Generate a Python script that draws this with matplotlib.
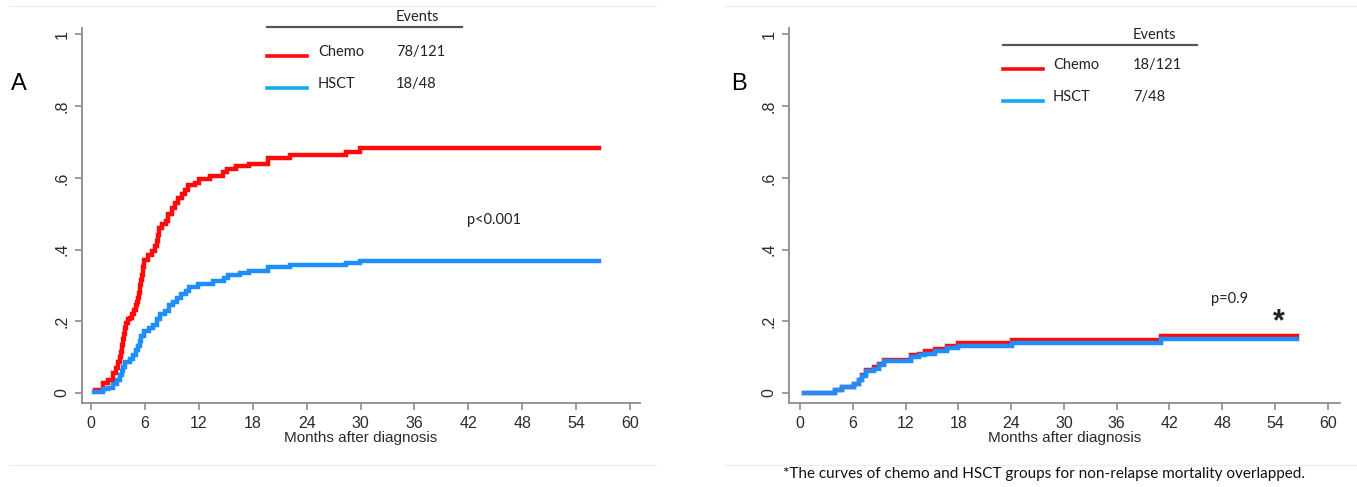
import matplotlib
matplotlib.use("Agg")
import matplotlib.pyplot as plt
from matplotlib.lines import Line2D
from matplotlib import font_manager

W, H = 1357, 487

# --- data (cumulative incidence, step functions) ---
# Panel A: relapse
a_chemo_t = [0.5, 1.3, 1.9, 2.4, 2.8, 3.0, 3.2, 3.35, 3.5, 3.6, 3.7, 3.8, 3.9, 4.1, 4.3, 4.6,
             4.8, 5.0, 5.1, 5.2, 5.3, 5.4, 5.5, 5.6, 5.7, 5.8, 5.9, 6.3, 6.8, 7.1, 7.3, 7.45,
             7.6, 7.9, 8.3, 8.6, 9.0, 9.4, 9.7, 10.1, 10.5, 10.8, 11.6, 12.0, 13.2, 14.7,
             15.1, 16.1, 17.6, 19.7, 22.1, 28.4, 29.9, 56.5]
a_chemo_y = [0.008, 0.027, 0.035, 0.055, 0.07, 0.085, 0.10, 0.115, 0.135, 0.15, 0.165, 0.18,
             0.195, 0.205, 0.21, 0.22, 0.232, 0.245, 0.255, 0.265, 0.28, 0.29, 0.30, 0.315,
             0.33, 0.35, 0.37, 0.385, 0.395, 0.41, 0.425, 0.44, 0.46, 0.47, 0.48, 0.50,
             0.515, 0.53, 0.545, 0.555, 0.565, 0.58, 0.585, 0.597, 0.605, 0.615, 0.625,
             0.632, 0.64, 0.655, 0.663, 0.672, 0.683, 0.683]
a_hsct_t = [0.3, 1.3, 1.9, 2.5, 2.9, 3.2, 3.4, 3.6, 3.8, 4.3, 4.7, 5.0, 5.2, 5.4, 5.6, 5.9,
            6.5, 6.9, 7.3, 7.7, 8.2, 8.7, 9.1, 9.6, 10.0, 10.6, 10.9, 11.9, 13.6, 14.8, 15.2,
            16.6, 17.6, 19.7, 22.1, 28.4, 29.9, 56.5]
a_hsct_y = [0.004, 0.01, 0.015, 0.025, 0.035, 0.05, 0.06, 0.072, 0.085, 0.095, 0.105, 0.12,
            0.13, 0.145, 0.16, 0.172, 0.18, 0.19, 0.205, 0.22, 0.23, 0.245, 0.255, 0.265,
            0.275, 0.285, 0.295, 0.305, 0.312, 0.322, 0.328, 0.334, 0.34, 0.35, 0.357,
            0.362, 0.369, 0.369]

# Panel B: non-relapse mortality
b_chemo_t = [0.5, 4.0, 4.8, 6.1, 6.7, 7.1, 7.5, 8.4, 9.0, 9.5, 12.6, 13.5, 14.2, 15.3, 16.7,
             18.0, 24.1, 41.0, 56.5]
b_chemo_y = [0.0, 0.008, 0.018, 0.026, 0.037, 0.05, 0.063, 0.072, 0.08, 0.093, 0.105, 0.11,
             0.116, 0.124, 0.131, 0.139, 0.148, 0.16, 0.16]
b_hsct_t = b_chemo_t
b_hsct_y = [0.0, 0.008, 0.018, 0.026, 0.037, 0.048, 0.06, 0.068, 0.077, 0.088, 0.10, 0.105,
            0.11, 0.118, 0.125, 0.132, 0.14, 0.15, 0.15]

x_ticks = [0, 6, 12, 18, 24, 30, 36, 42, 48, 54, 60]
y_ticks = [0, 0.2, 0.4, 0.6, 0.8, 1.0]
y_labels = ["0", ".2", ".4", ".6", ".8", "1"]

events_a = ["78/121", "18/48"]
events_b = ["18/121", "7/48"]
groups = ["Chemo", "HSCT"]

RED = "#ff0a0a"
BLUE = "#1e8ffa"
LEG_BLUE = "#14aaf0"

avail = {f.name for f in font_manager.fontManager.ttflist}
axis_font = "Liberation Sans" if "Liberation Sans" in avail else "DejaVu Sans"
leg_font = "Lato" if "Lato" in avail else "DejaVu Sans"


def px(x, y):
    return x / W, 1 - y / H


fig = plt.figure(figsize=(W / 100, H / 100), dpi=100)


def panel(left, right, xlim, ct, cy, ht, hy):
    x0, y1 = px(left, 403)
    x1, y0 = px(right, 28)
    ax = fig.add_axes([x0, y1, x1 - x0, y0 - y1])
    ax.step(ct, cy, where="post", color=RED, lw=3.2, solid_joinstyle="miter")
    ax.step(ht, hy, where="post", color=BLUE, lw=3.2, solid_joinstyle="miter")
    ax.set_xlim(*xlim)
    ax.set_ylim(-0.028, 1.018)
    ax.set_xticks(x_ticks)
    ax.set_yticks(y_ticks)
    ax.set_yticklabels(y_labels, rotation=90, va="center")
    for s in ["top", "right"]:
        ax.spines[s].set_visible(False)
    for s in ["left", "bottom"]:
        ax.spines[s].set_color("#8c8c8c")
        ax.spines[s].set_linewidth(1.3)
    ax.tick_params(direction="out", length=5, width=1.2, color="#8c8c8c",
                   labelcolor="#2b2b2b", labelsize=11.5, pad=4)
    for lab in ax.get_xticklabels() + ax.get_yticklabels():
        lab.set_fontfamily(axis_font)
    ax.set_xlabel("Months after diagnosis", fontsize=11, family=axis_font,
                  color="#2b2b2b", labelpad=0.5)
    return ax


ax_a = panel(82, 640, (-1.0, 61.1), a_chemo_t, a_chemo_y, a_hsct_t, a_hsct_y)
ax_b = panel(789, 1340, (-1.25, 61.4), b_chemo_t, b_chemo_y, b_hsct_t, b_hsct_y)


def legend(rx0, rx1, ry, ev_x, name_x, line_y, events):
    fig.add_artist(Line2D([px(rx0, 0)[0], px(rx1, 0)[0]], [px(0, ry)[1]] * 2,
                          color="#555555", lw=1.6))
    fig.text(*px(ev_x, ry - 10), "Events", fontsize=10.5, family=leg_font,
             color="#222222", va="center", ha="left")
    for g, ev, ly, c in zip(groups, events, line_y, [RED, LEG_BLUE]):
        fig.add_artist(Line2D([px(rx0, 0)[0], px(rx0 + 40, 0)[0]], [px(0, ly + 4)[1]] * 2,
                              color=c, lw=2.6))
        fig.text(*px(name_x, ly), g, fontsize=10.5, family=leg_font, color="#222222",
                 va="center", ha="left")
        fig.text(*px(ev_x, ly), ev, fontsize=10.5, family=leg_font, color="#222222",
                 va="center", ha="left")


legend(267, 462, 27, 396, 318, [52, 84], events_a)
legend(1003, 1197, 45, 1133, 1053, [65, 97], events_b)

fig.text(*px(494, 220), "p<0.001", fontsize=10.5, family=leg_font, color="#222222",
         ha="center", va="center")
fig.text(*px(1230, 299), "p=0.9", fontsize=10.5, family=leg_font, color="#222222",
         ha="center", va="center")
fig.text(*px(1279, 322), "*", fontsize=22, family=axis_font, weight="bold",
         color="#222222", ha="center", va="center")

fig.text(*px(19, 84), "A", fontsize=17, family=axis_font, ha="center", va="center")
fig.text(*px(739, 84), "B", fontsize=17, family=axis_font, ha="center", va="center")

fig.text(*px(1044, 474), "*The curves of chemo and HSCT groups for non-relapse mortality overlapped.",
         fontsize=11, family=leg_font, color="#111111", ha="center", va="center")

# faint panel borders
for xa, xb in [(9, 656), (723, 1357)]:
    for yy in [6, 465]:
        fig.add_artist(Line2D([px(xa, 0)[0], px(xb, 0)[0]], [px(0, yy)[1]] * 2,
                              color="#f0f0f0", lw=1))

fig.savefig("out.png", dpi=100)
